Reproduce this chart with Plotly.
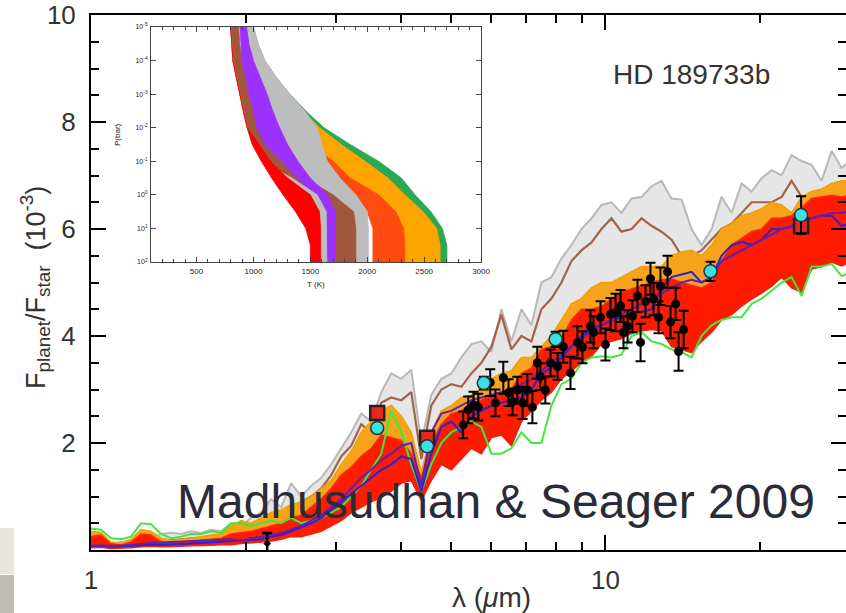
import plotly.graph_objects as go

# ---------------- main panel data ----------------
wl = [1.000, 1.046, 1.094, 1.144, 1.196, 1.251, 1.308, 1.368, 1.431, 1.497,
      1.565, 1.637, 1.712, 1.790, 1.872, 1.958, 2.048, 2.141, 2.239, 2.342,
      2.449, 2.562, 2.679, 2.802, 2.930, 3.064, 3.205, 3.352, 3.505, 3.666,
      3.834, 4.010, 4.193, 4.386, 4.586, 4.797, 5.016, 5.246, 5.487, 5.738,
      6.001, 6.276, 6.564, 6.864, 7.178, 7.507, 7.851, 8.211, 8.587, 8.981,
      9.393, 9.822, 10.27, 10.74, 11.24, 11.75, 12.29, 12.85, 13.44, 14.06,
      14.70, 15.37, 16.08, 16.81, 17.59, 18.39, 19.23, 20.11, 21.04, 22.00,
      23.00, 24.06, 25.16, 26.31, 27.52, 28.78, 30.10]

grey_model = [.15, .20, .12, .15, .18, .25, .22, .30, .32, .30,
              .35, .32, .38, .35, .50, .45, .60, .70, .95, .80,
              1.25, 1.00, 1.20, 1.35, 1.60, 1.90, 2.20, 2.55, 2.40, 2.95,
              3.30, 3.20, 3.37, 2.00, 2.90, 3.20, 3.30, 3.60, 3.85, 3.90,
              3.70, 4.50, 3.90, 4.50, 4.20, 5.00, 5.10, 5.45, 5.70, 6.00,
              6.20, 6.45, 6.50, 6.30, 6.57, 6.60, 6.80, 6.90, 6.57, 6.55,
              6.00, 5.70, 6.00, 6.60, 6.30, 6.85, 6.70, 6.95, 7.10, 7.00,
              7.38, 7.27, 7.20, 6.90, 7.46, 7.14, 7.30]
brown_model = [.12, .15, .10, .12, .14, .20, .20, .20, .18, .20,
               .22, .22, .25, .25, .30, .30, .45, .50, .60, .65,
               .80, .90, 1.00, 1.15, 1.40, 1.75, 1.95, 2.35, 2.20, 2.75,
               2.85, 2.80, 2.95, 1.70, 2.70, 3.00, 3.10, 3.05, 3.30, 3.50,
               3.80, 4.40, 3.75, 4.00, 3.90, 4.50, 4.70, 5.00, 5.40, 5.60,
               5.75, 6.00, 6.20, 5.95, 6.00, 6.20, 6.06, 5.95, 5.80, 5.50,
               5.50, 5.60, 5.80, 6.00, 6.10, 6.30, 6.50, 6.50, 6.50, 6.60,
               6.90, 6.60, 6.50, 6.60, 6.76, 6.70, 6.80]
orange_top = [.35, .33, .15, .12, .20, .38, .35, .22, .18, .20,
              .22, .25, .28, .30, .45, .55, .50, .60, .70, .75,
              .85, .90, 1.00, 1.15, 1.30, 1.60, 1.85, 2.20, 2.40, 2.60,
              2.70, 2.50, 2.20, 1.45, 2.20, 2.60, 2.70, 2.85, 2.90, 3.00,
              3.20, 3.30, 3.35, 3.60, 3.60, 3.80, 4.00, 4.30, 4.60, 4.70,
              4.90, 5.00, 5.00, 5.10, 5.20, 5.30, 5.30, 5.30, 5.50, 5.57,
              5.60, 5.50, 5.70, 6.00, 6.10, 6.25, 6.30, 6.38, 6.50, 6.45,
              6.30, 6.60, 6.70, 6.75, 6.85, 6.90, 6.90]
red_top = [.25, .28, .12, .10, .15, .30, .28, .15, .12, .14,
           .16, .18, .20, .22, .30, .32, .35, .40, .45, .50,
           .60, .65, .80, .95, 1.15, 1.40, 1.55, 1.75, 1.90, 2.15,
           2.10, 2.05, 1.80, 1.35, 2.00, 2.35, 2.55, 2.60, 2.75, 2.80,
           2.90, 2.95, 3.00, 3.30, 3.40, 3.75, 3.80, 3.95, 4.30, 4.50,
           4.50, 4.55, 4.70, 4.82, 4.88, 4.95, 5.00, 5.05, 5.07, 5.00,
           4.95, 4.90, 5.00, 5.40, 5.70, 5.82, 5.95, 6.00, 6.20, 6.20,
           6.25, 6.40, 6.57, 6.60, 6.63, 6.60, 6.65]
red_bot = [.04, .05, .03, .03, .04, .06, .07, .06, .06, .07,
           .08, .08, .09, .10, .10, .12, .13, .15, .17, .20,
           .25, .25, .30, .35, .45, .55, .70, .80, .90, .98,
           1.10, 1.25, 1.30, .92, 1.30, 1.60, 1.50, 1.70, 1.90, 1.80,
           2.10, 2.15, 1.95, 2.40, 2.60, 2.80, 2.95, 3.20, 3.35, 3.50,
           3.62, 3.85, 3.90, 3.95, 4.05, 4.10, 4.12, 4.10, 3.80, 3.75,
           3.69, 3.90, 4.07, 4.30, 4.40, 4.56, 4.69, 4.80, 4.93, 5.10,
           4.90, 4.82, 5.25, 5.30, 5.38, 5.31, 5.40]
green_model = [.40, .38, .22, .20, .25, .50, .48, .30, .22, .25,
               .30, .30, .35, .32, .50, .50, .45, .50, .55, .50,
               .60, .50, .55, .60, .70, .80, 1.00, 1.20, 1.50, 1.80,
               2.60, 2.20, 1.60, 1.10, 1.60, 2.00, 2.20, 2.30, 2.40, 2.30,
               1.80, 1.80, 1.90, 2.20, 2.00, 2.00, 2.70, 3.10, 3.20, 3.50,
               3.60, 3.62, 3.60, 3.65, 4.00, 4.07, 3.90, 3.85, 3.75, 3.70,
               3.60, 4.00, 4.20, 4.30, 4.35, 4.35, 4.60, 4.70, 4.85, 5.00,
               5.10, 4.75, 5.30, 5.30, 5.35, 5.12, 5.20]
blue_model = [.08, .08, .06, .07, .08, .10, .10, .10, .10, .11,
              .12, .13, .14, .15, .16, .17, .18, .20, .25, .28,
              .35, .42, .50, .60, .75, .90, 1.05, 1.20, 1.35, 1.50,
              1.60, 1.75, 1.70, 1.10, 1.80, 2.30, 2.40, 2.20, 2.50, 2.60,
              2.70, 2.75, 2.80, 2.85, 3.00, 3.30, 3.40, 3.60, 3.80, 4.00,
              4.15, 4.20, 4.30, 4.35, 4.40, 4.45, 4.50, 4.90, 5.10, 5.15,
              5.20, 5.00, 5.10, 5.50, 5.70, 5.76, 5.70, 5.80, 6.00, 6.00,
              6.05, 6.20, 6.20, 6.25, 6.25, 6.06, 6.10]
purple_model = [.08, .08, .07, .08, .10, .12, .13, .14, .15, .16,
                .17, .18, .19, .20, .20, .17, .22, .25, .28, .32,
                .38, .45, .55, .65, .80, .95, 1.15, 1.35, 1.50, 1.68,
                1.80, 1.95, 2.00, 1.20, 2.20, 2.55, 2.60, 2.70, 2.80, 2.85,
                2.90, 2.95, 3.00, 3.10, 3.20, 3.35, 3.50, 3.65, 3.80, 3.95,
                4.10, 4.20, 4.30, 4.40, 4.50, 4.60, 4.70, 4.80, 4.90, 5.00,
                5.05, 5.00, 5.10, 5.40, 5.50, 5.60, 5.70, 5.80, 5.90, 6.00,
                6.05, 6.10, 6.20, 6.25, 6.30, 6.30, 6.35]

# Spitzer IRS spectrum (black points)
irs_wl = [5.29, 5.41, 5.54, 5.66, 5.97, 6.11, 6.33, 6.48, 6.60, 6.74,
          6.90, 7.05, 7.21, 7.37, 7.47, 7.64, 7.82, 8.07, 8.28, 8.55,
          8.82, 9.02, 9.35, 9.48, 9.78, 10.0, 10.23, 10.46, 10.70, 10.84,
          11.04, 11.28, 11.54, 11.70, 11.96, 12.23, 12.40, 12.68, 12.79, 13.20,
          13.38, 13.69, 13.87, 14.19]
irs_f = [2.34, 2.62, 2.71, 2.67, 3.13, 2.75, 3.22, 2.94, 2.77, 2.99,
         2.75, 2.99, 2.67, 3.50, 3.24, 2.99, 3.50, 3.43, 3.80, 3.31,
         3.88, 3.79, 4.18, 4.07, 4.35, 3.84, 4.41, 4.44, 4.56, 4.07,
         4.18, 4.37, 4.75, 3.88, 4.65, 5.07, 4.69, 4.35, 4.93, 5.20,
         4.26, 4.60, 3.71, 4.12]
irs_err = [0.25, 0.25, 0.25, 0.25, 0.25, 0.25, 0.30, 0.25, 0.25, 0.25,
           0.30, 0.30, 0.30, 0.30, 0.25, 0.25, 0.25, 0.25, 0.30, 0.30,
           0.30, 0.30, 0.30, 0.30, 0.30, 0.30, 0.30, 0.35, 0.30, 0.30,
           0.30, 0.30, 0.30, 0.35, 0.30, 0.30, 0.30, 0.30, 0.35, 0.30,
           0.30, 0.30, 0.36, 0.35]
nir_wl = [2.2]
nir_f = [0.12]
nir_err = [0.2]

# Broadband photometry
cyan_wl = [3.6, 4.5, 5.8, 8.0, 16.0, 24.0]
cyan_f = [2.28, 1.94, 3.12, 3.94, 5.21, 6.26]
cyan_err = [0.08, 0.08, 0.12, 0.14, 0.18, 0.35]
red_wl = [3.6, 4.5, 24.0]
red_f = [2.56, 2.10, 6.05]

# ---------------- inset (P-T profiles) data ----------------
pres = [1e-5, 3.16e-5, 1e-4, 3.16e-4, 1e-3, 3.16e-3, 1e-2, 3.16e-2,
        0.1, 0.316, 1.0, 3.16, 10.0, 31.6, 100.0]
green_L = [990, 1030, 1090, 1185, 1300, 1430, 1580, 1770, 1980, 2180, 2320, 2480, 2600, 2640, 2640]
green_R = [1000, 1040, 1100, 1200, 1320, 1460, 1620, 1850, 2100, 2300, 2420, 2560, 2660, 2700, 2700]
orange_L = [980, 1010, 1060, 1140, 1250, 1380, 1500, 1560, 1620, 1750, 1900, 2050, 2200, 2250, 2250]
orange_R = [990, 1030, 1090, 1185, 1300, 1430, 1580, 1770, 1980, 2180, 2330, 2490, 2610, 2640, 2640]
hot_L = [960, 990, 1030, 1100, 1200, 1300, 1400, 1500, 1650, 1750, 1900, 2000, 2050, 2050, 2050]
hot_R = [960, 990, 1030, 1100, 1200, 1300, 1400, 1500, 1700, 1850, 2100, 2250, 2320, 2330, 2330]
grey2_L = [930, 960, 1000, 1060, 1120, 1170, 1230, 1300, 1380, 1500, 1650, 1800, 1880, 1900, 1900]
grey2_R = [1000, 1040, 1100, 1200, 1320, 1450, 1560, 1600, 1650, 1760, 1900, 2000, 2010, 2010, 2010]
brown_L = [800, 810, 820, 850, 880, 910, 945, 1000, 1140, 1300, 1500, 1680, 1720, 1720, 1720]
brown_R = [870, 880, 900, 930, 960, 1000, 1040, 1120, 1260, 1450, 1700, 1880, 1900, 1900, 1900]
purple_L = [880, 890, 900, 930, 960, 1000, 1030, 1100, 1250, 1380, 1540, 1630, 1640, 1640, 1640]
purple_R = [940, 960, 1000, 1060, 1120, 1170, 1230, 1300, 1390, 1500, 1650, 1720, 1720, 1720, 1720]
grey1_L = [800, 810, 820, 850, 880, 910, 945, 990, 1070, 1300, 1480, 1560, 1585, 1585, 1585]
grey1_R = [800, 810, 820, 850, 880, 910, 945, 990, 1070, 1340, 1560, 1640, 1645, 1645, 1645]
red_L = [800, 810, 820, 850, 880, 910, 945, 990, 1070, 1160, 1260, 1370, 1460, 1500, 1500]
red_R = [800, 810, 820, 850, 880, 910, 945, 1050, 1150, 1300, 1500, 1580, 1590, 1590, 1590]

FONT = "Liberation Sans, Arial, Helvetica, sans-serif"
fig = go.Figure()

# ---------------- model spectra ----------------
fig.add_trace(go.Scatter(x=wl, y=orange_top, mode="lines",
                         line=dict(color="rgba(0,0,0,0)", width=0), hoverinfo="skip"))
fig.add_trace(go.Scatter(x=wl, y=grey_model, mode="lines", fill="tonexty",
                         fillcolor="rgba(200,200,200,0.45)",
                         line=dict(color="#b8b8b8", width=2), hoverinfo="skip"))
fig.add_trace(go.Scatter(x=wl, y=brown_model, mode="lines",
                         line=dict(color="#a26446", width=2.2), hoverinfo="skip"))
fig.add_trace(go.Scatter(x=wl, y=red_bot, mode="lines",
                         line=dict(color="#ff1a00", width=1.5), hoverinfo="skip"))
fig.add_trace(go.Scatter(x=wl, y=red_top, mode="lines", fill="tonexty",
                         fillcolor="#ff1a00",
                         line=dict(color="#ff2a00", width=1.5), hoverinfo="skip"))
fig.add_trace(go.Scatter(x=wl, y=orange_top, mode="lines", fill="tonexty",
                         fillcolor="#f7a41c",
                         line=dict(color="#f0a000", width=1.5), hoverinfo="skip"))
fig.add_trace(go.Scatter(x=wl, y=green_model, mode="lines",
                         line=dict(color="#3ee83e", width=2), hoverinfo="skip"))
fig.add_trace(go.Scatter(x=wl, y=blue_model, mode="lines",
                         line=dict(color="#2424d8", width=2), hoverinfo="skip"))
fig.add_trace(go.Scatter(x=wl, y=purple_model, mode="lines",
                         line=dict(color="#6220b0", width=2), hoverinfo="skip"))

# ---------------- observations ----------------
fig.add_trace(go.Scatter(x=nir_wl, y=nir_f, mode="markers",
                         marker=dict(color="black", size=6, symbol="diamond"),
                         error_y=dict(type="data", array=nir_err, color="black",
                                      thickness=2.5, width=5)))
fig.add_trace(go.Scatter(x=irs_wl, y=irs_f, mode="markers",
                         marker=dict(color="black", size=9),
                         error_y=dict(type="data", array=irs_err, color="black",
                                      thickness=2, width=5)))
fig.add_trace(go.Scatter(x=red_wl, y=red_f, mode="markers",
                         marker=dict(color="#e8261e", size=14, symbol="square",
                                     line=dict(color="#222", width=2.5))))
fig.add_trace(go.Scatter(x=cyan_wl, y=cyan_f, mode="markers",
                         marker=dict(color="#3fdfe6", size=13,
                                     line=dict(color="#1a3a40", width=1.5)),
                         error_y=dict(type="data", array=cyan_err, color="black",
                                      thickness=2, width=5)))

# ---------------- inset bands ----------------
def band(L, R, color):
    xs = list(L) + list(R)[::-1]
    ys = list(pres) + list(pres)[::-1]
    fig.add_trace(go.Scatter(x=xs, y=ys, xaxis="x2", yaxis="y2", mode="lines",
                             fill="toself", fillcolor=color,
                             line=dict(color=color, width=0.8), hoverinfo="skip"))

band(green_L, green_R, "#2aa852")
band(orange_L, orange_R, "#ffa500")
band(hot_L, hot_R, "#ff4a10")
band(grey2_L, grey2_R, "#bdbdbd")
band(brown_L, brown_R, "#a0573a")
band(purple_L, purple_R, "#9b30ff")
band(grey1_L, grey1_R, "#bdbdbd")
band(red_L, red_R, "#ff0000")

axis_common = dict(showline=True, linecolor="black", linewidth=2, mirror="ticks",
                   ticks="inside", tickcolor="black", tickwidth=2, showgrid=False,
                   zeroline=False, automargin=False)

fig.update_layout(
    width=846, height=613,
    margin=dict(l=91, r=0, t=15, b=63, autoexpand=False),
    paper_bgcolor="white", plot_bgcolor="white",
    showlegend=False,
    font=dict(family=FONT, color="#333"),
    xaxis=dict(type="log", range=[0, 1.4675], tickvals=[1, 10], ticktext=["1", "10"],
               ticklen=15, tickfont=dict(size=26, color="#333"),
               ticklabelstandoff=6,
               minor=dict(ticks="inside", ticklen=8, tickwidth=1.5, tickcolor="black",
                          tickvals=[2, 3, 4, 5, 6, 7, 8, 9, 20, 30]),
               **axis_common),
    yaxis=dict(range=[0, 10], tickvals=[2, 4, 6, 8, 10], ticktext=["2", "4", "6", "8", "10"],
               ticklen=15, tickfont=dict(size=26, color="#333"),
               ticklabelstandoff=8,
               minor=dict(ticks="inside", ticklen=8, tickwidth=1.5, tickcolor="black",
                          dtick=0.5, tick0=0),
               **axis_common),
    xaxis2=dict(domain=[0.0795, 0.5166], anchor="y2", range=[100, 3000],
                tickvals=[500, 1000, 1500, 2000, 2500, 3000],
                showline=True, linecolor="#444", linewidth=1, mirror="ticks",
                ticks="inside", ticklen=5, tickcolor="#444", tickwidth=1,
                minor=dict(ticks="inside", ticklen=3, dtick=100, tick0=0, tickcolor="#444"),
                tickfont=dict(size=8, color="#222"), ticklabelstandoff=1,
                showgrid=False, zeroline=False, automargin=False),
    yaxis2=dict(domain=[0.5383, 0.9776], anchor="x2", type="log", range=[2, -5],
                tickvals=[1e-5, 1e-4, 1e-3, 1e-2, 1e-1, 1, 10, 100],
                ticktext=["10<sup>-5</sup>", "10<sup>-4</sup>", "10<sup>-3</sup>",
                          "10<sup>-2</sup>", "10<sup>-1</sup>", "10<sup>0</sup>",
                          "10<sup>1</sup>", "10<sup>2</sup>"],
                showline=True, linecolor="#444", linewidth=1, mirror="ticks",
                ticks="inside", ticklen=5, tickcolor="#444", tickwidth=1,
                tickfont=dict(size=7, color="#222"), ticklabelstandoff=1,
                showgrid=False, zeroline=False, automargin=False),
)

annotations = [
    dict(text="F<sub>planet</sub>/F<sub>star</sub>  (10<sup>-3</sup>)", textangle=-90,
         x=-0.074, y=0.49, font=dict(size=27, color="#333")),
    dict(text="λ (<i>μ</i>m)", x=0.53, y=-0.0897, font=dict(size=28, color="#333")),
    dict(text="HD 189733b", x=0.795, y=0.888, font=dict(size=28, color="#333")),
    dict(text="Madhusudhan &amp; Seager 2009", x=0.536, y=0.09,
         font=dict(size=48, color="#2b2b38")),
    dict(text="P(bar)", textangle=-90, x=0.036, y=0.776, font=dict(size=8, color="#222")),
    dict(text="T (K)", x=0.298, y=0.497, font=dict(size=8, color="#222")),
]
for a in annotations:
    a.update(xref="paper", yref="paper", showarrow=False, xanchor="center", yanchor="middle")
fig.update_layout(annotations=annotations)

fig.update_layout(shapes=[
    dict(type="rect", xref="paper", yref="paper", x0=-0.1205, x1=-0.102,
         y0=-0.0449, y1=0.0411, fillcolor="#e8e5df", line=dict(width=0), layer="above"),
    dict(type="rect", xref="paper", yref="paper", x0=-0.1205, x1=-0.102,
         y0=-0.1178, y1=-0.0467, fillcolor="#c0bcb4", line=dict(width=0), layer="above"),
])

fig.write_html("out.html")
